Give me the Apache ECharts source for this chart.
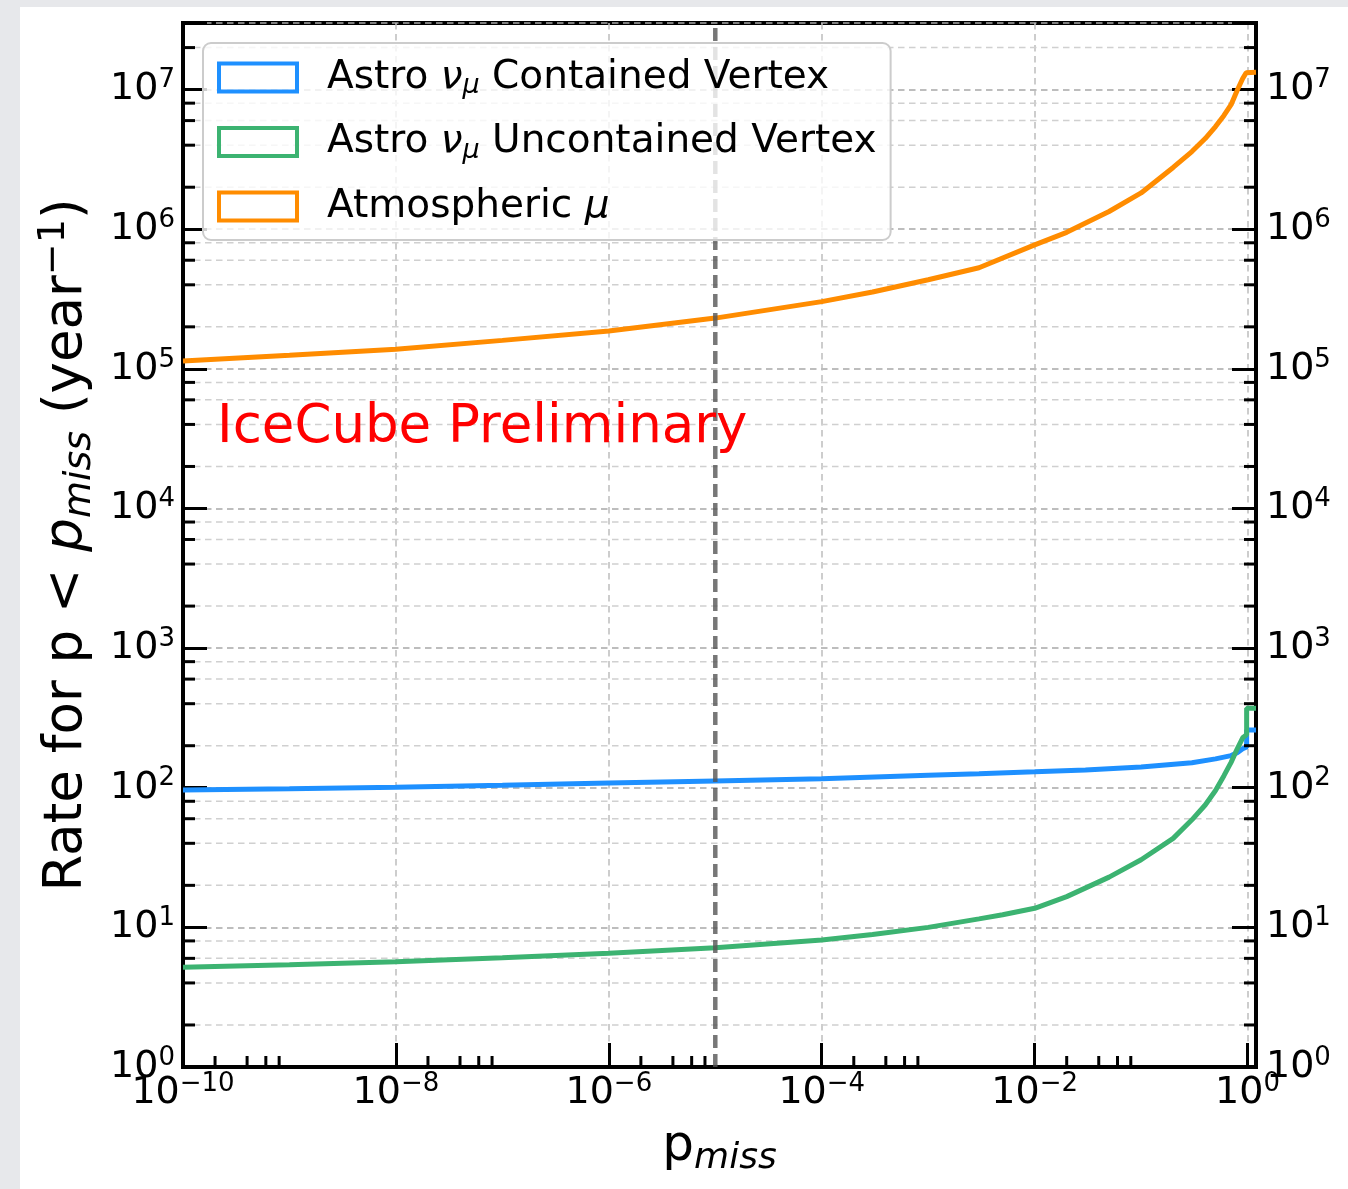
<!DOCTYPE html>
<html>
<head>
<meta charset="utf-8">
<script src="https://cdn.jsdelivr.net/npm/echarts@6/dist/echarts.min.js"></script>
<style>
  html, body { margin: 0; padding: 0; background: #e7e8eb; }
  #panel { position: absolute; left: 20px; top: 7px; width: 1328px; height: 1182px; background: #fff; }
  #main { position: absolute; left: 0; top: 0; width: 1348px; height: 1189px; }
</style>
</head>
<body>
<div id="panel"></div>
<div id="main"></div>
<script>
// values: p_miss (x) and cumulative rate (year^-1)
const pContained = [1e-10, 1e-9, 1e-8, 1e-7, 1e-6, 1e-5, 1e-4, 1e-3, 3e-3, 1e-2, 3e-2, 0.1, 0.3, 0.5, 0.7, 0.8, 0.9, 0.98, 0.98, 1.2];
const rateContained = [96.4, 98.4, 100.8, 104, 108, 112, 116, 123, 126, 130, 134, 141, 151, 161, 170, 178, 190, 196, 259, 259];

const pUncontained = [1e-10, 1e-9, 1e-8, 1e-7, 1e-6, 1e-5, 1e-4, 3e-4, 1e-3, 3e-3, 5e-3, 1e-2, 0.02, 0.05, 0.1, 0.2, 0.3, 0.4, 0.5, 0.6, 0.7, 0.8, 0.9, 0.98, 0.98, 1.2];
const rateUncontained = [5.18, 5.4, 5.68, 6.07, 6.52, 7.16, 8.13, 8.9, 10.0, 11.5, 12.3, 13.7, 16.6, 22.9, 30.5, 43.4, 58.9, 75.2, 95.5, 122, 152, 190, 228, 240, 371, 371];

const pAtmo = [1e-10, 1e-9, 1e-8, 1e-7, 1e-6, 1e-5, 1e-4, 3e-4, 1e-3, 3e-3, 1e-2, 0.02, 0.05, 0.1, 0.2, 0.3, 0.4, 0.5, 0.6, 0.7, 0.8, 0.9, 0.97, 1.2];
const rateAtmo = [1.14e5, 1.25e5, 1.38e5, 1.6e5, 1.87e5, 2.31e5, 3.03e5, 3.55e5, 4.35e5, 5.3e5, 7.73e5, 9.5e5, 1.34e6, 1.82e6, 2.77e6, 3.6e6, 4.46e6, 5.44e6, 6.53e6, 7.8e6, 9.9e6, 1.2e7, 1.32e7, 1.33e7];

// minor tick positions
const yMinorTicks = [2, 4, 6, 8, 20, 40, 60, 80, 200, 400, 600, 800, 2e3, 4e3, 6e3, 8e3,
  2e4, 4e4, 6e4, 8e4, 2e5, 4e5, 6e5, 8e5, 2e6, 4e6, 6e6, 8e6, 2e7];
const xMinorTicks = [2e-10, 4e-10, 6e-10, 8e-10, 2e-8, 4e-8, 6e-8, 8e-8, 2e-6, 4e-6, 6e-6, 8e-6,
  2e-4, 4e-4, 6e-4, 8e-4, 2e-2, 4e-2, 6e-2, 8e-2];

// vertical cut line at p = 1e-5
const pCut = [1e-5, 1e-5];
const cutRange = [1, 3e7];

const FONT = 'DejaVu Sans';
const names = ['Astro \u03bd\u03bc Contained Vertex', 'Astro \u03bd\u03bc Uncontained Vertex', 'Atmospheric \u03bc'];
const colors = ['#1e90ff', '#3cb371', '#ff8c00'];
const legendText = {};
legendText[names[0]] = '{g| }{n|Astro }{i|\u03bd}{sub|\u03bc}{n| Contained Vertex}';
legendText[names[1]] = '{g| }{n|Astro }{i|\u03bd}{sub|\u03bc}{n| Uncontained Vertex}';
legendText[names[2]] = '{g| }{n|Atmospheric }{i|\u03bc}';

function powLabel(v) {
  const e = Math.log10(v);
  const r = Math.round(e);
  if (Math.abs(e - r) > 1e-6) return '';
  const s = r < 0 ? '\u2212' + (-r) : String(r);
  return '{b|10}{s|' + s + '}';
}

const tickRich = {
  b: { fontFamily: FONT, fontSize: 38, lineHeight: 44, color: '#000' },
  s: { fontFamily: FONT, fontSize: 26, lineHeight: 26, verticalAlign: 'top', color: '#000' }
};

function pairs(xs, ys) { return xs.map((x, i) => [x, ys[i]]); }

function lineSeries(idx, xs, ys) {
  return {
    name: names[idx], type: 'line', data: pairs(xs, ys),
    showSymbol: false, symbol: 'none', z: 2,
    lineStyle: { color: colors[idx], width: 5 },
    itemStyle: { color: colors[idx] }
  };
}

const chart = echarts.init(document.getElementById('main'));

chart.setOption({
  animation: false,
  grid: { left: 183, right: 92, top: 23, bottom: 122, show: true, borderColor: '#000', borderWidth: 4 },
  legend: {
    orient: 'vertical', left: 203, top: 43, z: 8,
    padding: [15, 14, 14, 14],
    itemWidth: 78, itemHeight: 28, itemGap: 23,
    backgroundColor: 'rgba(255,255,255,0.8)',
    borderColor: '#cccccc', borderWidth: 2, borderRadius: 8,
    data: names.map((n, i) => ({
      name: n, icon: 'rect',
      itemStyle: { color: 'rgba(0,0,0,0)', borderColor: colors[i], borderWidth: 4 }
    })),
    formatter: n => legendText[n],
    textStyle: {
      color: '#000',
      rich: {
        g: { width: 25 },
        n: { fontFamily: FONT, fontSize: 39, lineHeight: 44, color: '#000' },
        i: { fontFamily: FONT, fontSize: 39, lineHeight: 44, fontStyle: 'italic', color: '#000' },
        sub: { fontFamily: FONT, fontSize: 27, lineHeight: 30, fontStyle: 'italic', verticalAlign: 'bottom', color: '#000' }
      }
    }
  },
  xAxis: {
    type: 'log', logBase: 100, min: 1e-10, max: 1.2,
    axisLine: { lineStyle: { color: '#000', width: 4 } },
    axisTick: { inside: true, length: 24, lineStyle: { color: '#000', width: 3 } },
    axisLabel: { formatter: powLabel, margin: 4, rich: tickRich },
    splitLine: { show: true, lineStyle: { color: '#bdbdbd', width: 1.5, type: [6.5, 4.5] } },
    name: '{n|p}{sub|miss}', nameLocation: 'middle', nameGap: 50,
    nameTextStyle: {
      rich: {
        n: { fontFamily: FONT, fontSize: 50, lineHeight: 60, color: '#000' },
        sub: { fontFamily: FONT, fontSize: 36, lineHeight: 32, fontStyle: 'italic', verticalAlign: 'bottom', color: '#000' }
      }
    }
  },
  yAxis: [{
    type: 'log', min: 1, max: 3e7, position: 'left',
    axisLine: { lineStyle: { color: '#000', width: 4 } },
    axisTick: { inside: true, length: 24, lineStyle: { color: '#000', width: 3 } },
    axisLabel: { formatter: powLabel, margin: 8, rich: tickRich },
    splitLine: { show: true, lineStyle: { color: '#a8a8a8', width: 1.5, type: [6.5, 4.5] } },
    name: '{n|Rate for p < }{i|p}{sub|miss}{n| (year}{sup|\u22121}{n|)}',
    nameLocation: 'middle', nameGap: 80,
    nameTextStyle: {
      rich: {
        n: { fontFamily: FONT, fontSize: 53, lineHeight: 64, color: '#000' },
        i: { fontFamily: FONT, fontSize: 53, lineHeight: 64, fontStyle: 'italic', color: '#000' },
        sub: { fontFamily: FONT, fontSize: 38, lineHeight: 34, fontStyle: 'italic', verticalAlign: 'bottom', color: '#000' },
        sup: { fontFamily: FONT, fontSize: 38, lineHeight: 36, verticalAlign: 'top', color: '#000' }
      }
    }
  }, {
    type: 'log', min: 1, max: 3e7, position: 'right',
    axisLine: { lineStyle: { color: '#000', width: 4 } },
    axisTick: { inside: true, length: 24, lineStyle: { color: '#000', width: 3 } },
    axisLabel: { formatter: powLabel, margin: 10, rich: tickRich },
    splitLine: { show: false }
  }],
  graphic: [{
    type: 'text', x: 217, y: 428, z: 10,
    style: { text: 'IceCube Preliminary', fill: '#ff0000', font: '53px "DejaVu Sans"', verticalAlign: 'middle' }
  }],
  series: [
    {
      type: 'custom', name: 'yMinorGrid', z: 1, silent: true,
      data: yMinorTicks.map(v => [1e-3, v]),
      renderItem: function (params, api) {
        const cs = params.coordSys;
        const y = api.coord([1e-3, api.value(1)])[1];
        return {
          type: 'line', shape: { x1: cs.x, y1: y, x2: cs.x + cs.width, y2: y },
          style: { stroke: '#d0d0d0', lineWidth: 1.5, lineDash: [6.5, 4.5] }
        };
      }
    },
    lineSeries(0, pContained, rateContained),
    lineSeries(1, pUncontained, rateUncontained),
    lineSeries(2, pAtmo, rateAtmo),
    {
      name: 'cut', type: 'line', data: pairs(pCut, cutRange), z: 3,
      showSymbol: false, symbol: 'none', silent: true,
      lineStyle: { color: '#555', opacity: 0.8, type: [13, 6], width: 4.5 }
    },
    {
      type: 'custom', name: 'yMinorTick', z: 6, silent: true,
      data: yMinorTicks.map(v => [1e-3, v]),
      renderItem: function (params, api) {
        const cs = params.coordSys;
        const y = api.coord([1e-3, api.value(1)])[1];
        const st = { stroke: '#000', lineWidth: 3 };
        return {
          type: 'group', children: [
            { type: 'line', shape: { x1: cs.x, y1: y, x2: cs.x + 12, y2: y }, style: st },
            { type: 'line', shape: { x1: cs.x + cs.width - 12, y1: y, x2: cs.x + cs.width, y2: y }, style: st }
          ]
        };
      }
    },
    {
      type: 'custom', name: 'xMinorTick', z: 6, silent: true,
      data: xMinorTicks.map(v => [v, 1]),
      renderItem: function (params, api) {
        const cs = params.coordSys;
        const x = api.coord([api.value(0), 1])[0];
        const yb = cs.y + cs.height;
        return {
          type: 'line', shape: { x1: x, y1: yb, x2: x, y2: yb - 11 },
          style: { stroke: '#000', lineWidth: 3 }
        };
      }
    }
  ]
});
</script>
</body>
</html>
